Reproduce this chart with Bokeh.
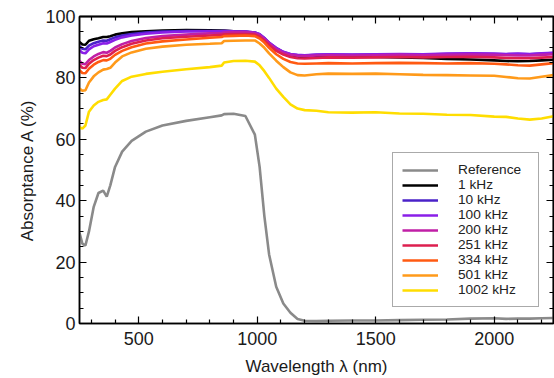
from bokeh.plotting import figure
from bokeh.models import LinearAxis, SingleIntervalTicker, FixedTicker, Range1d, Legend
from bokeh.embed import file_html
from bokeh.resources import INLINE

wavelength = [250, 262, 275, 290, 310, 330, 350, 365, 380, 400, 430, 470, 530, 600, 700, 800, 850, 860, 900, 950,
              990, 1010, 1030, 1050, 1080, 1110, 1140, 1170, 1200, 1250, 1300, 1400, 1500, 1600, 1700, 1800, 1900,
              2000, 2050, 2100, 2150, 2200, 2250]

reference = [29.5, 26.0, 25.4, 30.0, 38.0, 42.5, 43.3, 41.3, 45.0, 51.0, 56.0, 59.5, 62.5, 64.5, 66.0, 67.2, 67.8, 68.2,
             68.3, 67.6, 61.5, 51.0, 35.0, 22.5, 12.0, 6.5, 3.5, 1.5, 0.9, 0.8, 0.9, 1.0, 1.0, 1.1, 1.2, 1.3, 1.6,
             1.7, 1.5, 1.6, 1.6, 1.7, 1.8]
khz_1 = [91.7, 90.9, 90.8, 92.1, 92.6, 92.9, 93.3, 93.3, 93.6, 94.1, 94.5, 94.9, 95.2, 95.4, 95.6, 95.5, 95.4, 95.4,
         95.2, 95.0, 94.6, 94.0, 92.8, 91.3, 89.6, 88.3, 87.5, 87.0, 86.8, 86.8, 86.9, 86.9, 86.8, 86.7, 86.5, 86.2,
         86.0, 85.7, 85.5, 85.4, 85.5, 85.7, 85.9]
khz_10 = [90.3, 89.5, 89.3, 90.5, 91.3, 91.8, 92.2, 92.1, 92.6, 93.2, 93.8, 94.3, 94.8, 95.1, 95.3, 95.3, 95.3, 95.3,
          95.2, 95.1, 94.8, 94.2, 93.0, 91.4, 89.7, 88.4, 87.7, 87.4, 87.3, 87.5, 87.6, 87.5, 87.6, 87.7, 87.6, 87.8,
          87.9, 87.8, 87.7, 87.8, 87.7, 87.9, 88.1]
khz_100 = [89.0, 88.2, 88.0, 89.3, 90.3, 90.8, 91.3, 91.2, 91.7, 92.4, 93.2, 93.8, 94.4, 94.8, 95.1, 95.2, 95.2, 95.3,
           95.2, 95.1, 94.8, 94.2, 93.0, 91.5, 89.8, 88.5, 87.8, 87.5, 87.4, 87.6, 87.7, 87.6, 87.7, 87.8, 87.7, 87.9,
           88.0, 87.9, 87.8, 87.9, 87.8, 88.0, 88.2]
khz_200 = [85.5, 84.6, 84.5, 85.8, 87.0, 87.8, 88.4, 88.2, 88.8, 89.9, 91.0, 92.0, 93.0, 93.6, 94.1, 94.5, 94.6, 94.8,
           94.9, 94.9, 94.6, 93.9, 92.7, 91.2, 89.4, 88.2, 87.5, 87.2, 87.1, 87.3, 87.4, 87.3, 87.4, 87.5, 87.4, 87.5,
           87.6, 87.5, 87.4, 87.3, 87.3, 87.5, 87.7]
khz_251 = [84.2, 83.3, 83.2, 84.6, 85.8, 86.6, 87.2, 87.1, 87.6, 88.8, 90.0, 91.1, 92.2, 92.9, 93.4, 93.8, 94.0, 94.2,
           94.3, 94.3, 94.1, 93.4, 92.2, 90.7, 88.8, 87.6, 86.8, 86.4, 86.3, 86.5, 86.7, 86.6, 86.7, 86.8, 86.7, 86.8,
           86.9, 86.7, 86.5, 86.4, 86.4, 86.6, 86.8]
khz_334 = [82.5, 81.6, 81.5, 83.0, 84.3, 85.2, 85.8, 85.7, 86.2, 87.5, 88.8, 90.0, 91.2, 91.9, 92.5, 93.1, 93.3, 93.6,
           93.7, 93.8, 93.6, 92.8, 91.5, 89.8, 87.7, 86.2, 85.2, 84.7, 84.6, 84.7, 84.8, 84.7, 84.8, 84.9, 84.8, 84.7,
           84.8, 84.6, 84.4, 84.1, 84.0, 84.4, 84.8]
khz_501 = [76.5, 75.8, 76.0, 78.5, 80.5, 81.8, 82.7, 82.9, 83.3, 85.0, 87.0, 88.3, 89.5, 90.2, 90.8, 91.1, 91.3, 92.0,
           92.1, 92.2, 92.2, 91.2, 89.8, 88.0, 85.6, 83.5, 81.8, 80.9, 80.8, 81.2, 81.4, 81.3, 81.4, 81.2, 81.0, 80.9,
           80.8, 80.7, 80.3, 79.9, 79.8, 80.4, 80.9]
khz_1002 = [64.0, 63.5, 64.5, 69.0, 71.0, 72.2, 72.8, 73.0, 74.5, 76.5, 79.0, 80.4, 81.3, 82.0, 82.8, 83.5, 84.0, 85.0,
            85.5, 85.6, 85.3, 84.1, 82.2, 80.0, 76.5, 73.8, 71.4, 70.0, 69.5, 69.3, 68.8, 68.7, 68.8, 68.4, 68.3, 68.0,
            67.9, 67.4, 67.3, 66.8, 66.4, 66.8, 67.5]

series_labels = ["Reference", "1 kHz", "10 kHz", "100 kHz", "200 kHz", "251 kHz", "334 kHz", "501 kHz", "1002 kHz"]
series_values = [reference, khz_1, khz_10, khz_100, khz_200, khz_251, khz_334, khz_501, khz_1002]
series_colors = ["#8a8a8a", "#000000", "#4a22c8", "#8a1fe8", "#c01fa6", "#dd1f4f", "#ff5a12", "#ff9a1a", "#ffdd00"]

x_major_ticks = [500, 1000, 1500, 2000]
x_minor_ticks = [300, 400, 600, 700, 800, 900, 1100, 1200, 1300, 1400, 1600, 1700, 1800, 1900, 2100, 2200]
y_major_ticks = [0, 20, 40, 60, 80, 100]
y_minor_ticks = [5, 10, 15, 25, 30, 35, 45, 50, 55, 65, 70, 75, 85, 90, 95]

FONT = "Liberation Sans"

p = figure(width=554, height=378, output_backend="svg", toolbar_location=None,
           x_range=Range1d(250, 2250), y_range=Range1d(0, 100),
           min_border_left=79, min_border_right=1, min_border_top=16, min_border_bottom=54)
p.grid.visible = False
p.outline_line_color = "#000000"
p.outline_line_width = 1.5
p.background_fill_color = "white"
p.border_fill_color = "white"

renderers = []
for lab, vals, col in zip(series_labels, series_values, series_colors):
    r = p.line(wavelength, vals, line_color=col, line_width=2.6)
    renderers.append((lab, [r]))

xt = FixedTicker(ticks=x_major_ticks, minor_ticks=x_minor_ticks)
yt = FixedTicker(ticks=y_major_ticks, minor_ticks=y_minor_ticks)

for ax in [p.xaxis[0], p.yaxis[0]]:
    ax.major_tick_in = 7
    ax.major_tick_out = 0
    ax.minor_tick_in = 4
    ax.minor_tick_out = 0
    ax.axis_line_color = "#000000"
    ax.axis_line_width = 1.5
    ax.major_tick_line_color = "#000000"
    ax.major_tick_line_width = 1.2
    ax.minor_tick_line_color = "#000000"
    ax.minor_tick_line_width = 1.2
    ax.major_label_text_font = FONT
    ax.major_label_text_font_size = "18px"
    ax.major_label_text_color = "#1a1a1a"
    ax.axis_label_text_font = FONT
    ax.axis_label_text_font_size = "17px"
    ax.axis_label_text_font_style = "normal"
    ax.axis_label_text_color = "#1a1a1a"

p.xaxis[0].ticker = xt
p.yaxis[0].ticker = yt
p.xaxis[0].axis_label = "Wavelength λ (nm)"
p.yaxis[0].axis_label = "Absorptance A (%)"
p.xaxis[0].major_label_standoff = 8
p.xaxis[0].axis_label_standoff = 9
p.yaxis[0].major_label_standoff = 4
p.yaxis[0].axis_label_standoff = 5

# mirrored ticks on top and right (no labels)
for loc, majors, minors in [("above", x_major_ticks, x_minor_ticks), ("right", y_major_ticks, y_minor_ticks)]:
    for tick_list, length in [(majors, 7), (minors, 4)]:
        a = LinearAxis(ticker=FixedTicker(ticks=[], minor_ticks=tick_list),
                       major_tick_in=0, major_tick_out=0, minor_tick_in=length, minor_tick_out=0,
                       major_label_standoff=0,
                       axis_line_color="#000000", axis_line_width=1.5,
                       minor_tick_line_color="#000000", minor_tick_line_width=1.2)
        p.add_layout(a, loc)

legend = Legend(items=renderers, location=(313, 16))
legend.label_text_font = FONT
legend.label_text_font_size = "13.7px"
legend.label_text_color = "#222222"
legend.padding = 9
legend.spacing = 0
legend.margin = 0
legend.label_height = 14
legend.glyph_height = 14
legend.glyph_width = 36
legend.label_standoff = 20
legend.label_width = 71
legend.border_line_color = "#555555"
legend.border_line_width = 1.2
legend.background_fill_alpha = 1.0
p.add_layout(legend, "center")

open("out.html", "w").write(file_html(p, INLINE))
